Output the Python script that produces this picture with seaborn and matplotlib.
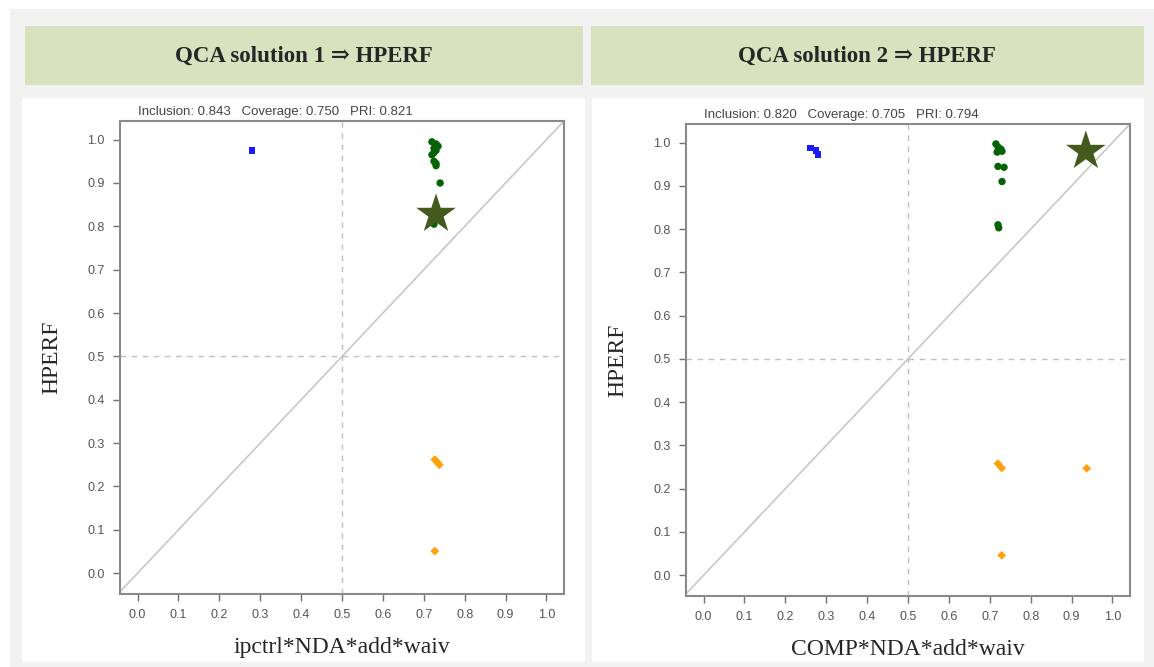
import matplotlib
matplotlib.use("Agg")
import matplotlib.pyplot as plt
from matplotlib.patches import Rectangle
import pandas as pd
import seaborn as sns

# solution 1: ipctrl*NDA*add*waiv
titles = ["QCA solution 1 \u21d2 HPERF", "QCA solution 2 \u21d2 HPERF"]
xlabels = ["ipctrl*NDA*add*waiv", "COMP*NDA*add*waiv"]
fit_texts = ["Inclusion: 0.843   Coverage: 0.750   PRI: 0.821",
             "Inclusion: 0.820   Coverage: 0.705   PRI: 0.794"]

s1_blue_x = [0.28]
s1_blue_y = [0.975]
s1_green_x = [0.72, 0.73, 0.735, 0.725, 0.73, 0.725, 0.72, 0.725, 0.73, 0.73, 0.74, 0.725]
s1_green_y = [0.995, 0.99, 0.985, 0.98, 0.975, 0.97, 0.965, 0.95, 0.945, 0.94, 0.90, 0.805]
s1_orange_x = [0.727, 0.733, 0.738, 0.727]
s1_orange_y = [0.262, 0.256, 0.250, 0.051]
s1_star = (0.73, 0.828)

s2_blue_x = [0.262, 0.275, 0.28]
s2_blue_y = [0.988, 0.982, 0.973]
s2_green_x = [0.715, 0.72, 0.727, 0.718, 0.73, 0.72, 0.735, 0.73, 0.72, 0.722]
s2_green_y = [0.997, 0.99, 0.985, 0.978, 0.98, 0.945, 0.943, 0.91, 0.81, 0.803]
s2_orange_x = [0.72, 0.729, 0.937, 0.729]
s2_orange_y = [0.258, 0.248, 0.247, 0.046]
s2_star = (0.935, 0.98)

ticks = [0.0, 0.1, 0.2, 0.3, 0.4, 0.5, 0.6, 0.7, 0.8, 0.9, 1.0]

sns.set_style("white")
plt.rcParams["font.family"] = ["Liberation Sans", "DejaVu Sans"]
serif = ["Liberation Serif", "DejaVu Serif"]

fig = plt.figure(figsize=(11.54, 6.67), dpi=100)
fig.patch.set_facecolor("white")
W, H = 1154, 667


def px_rect(x0, y0, x1, y1, color):
    fig.add_artist(Rectangle((x0 / W, 1 - y1 / H), (x1 - x0) / W, (y1 - y0) / H,
                             transform=fig.transFigure, facecolor=color,
                             edgecolor="none", zorder=-10))


px_rect(10, 9, 1154, 667, "#f2f2f2")
px_rect(25, 26, 583, 85, "#d7e3bf")
px_rect(591, 26, 1144, 85, "#d7e3bf")
px_rect(22, 98, 585, 662, "white")
px_rect(592, 98, 1144, 662, "white")

fig.text(304 / W, 1 - 56 / H, titles[0], ha="center", va="center",
         fontsize=16.5, fontweight="bold", family=serif)
fig.text(867 / W, 1 - 56 / H, titles[1], ha="center", va="center",
         fontsize=16.5, fontweight="bold", family=serif)

ax_boxes = [(120, 121, 564, 594), (686, 124, 1130, 596)]
data = [
    (s1_blue_x, s1_blue_y, s1_green_x, s1_green_y, s1_orange_x, s1_orange_y, s1_star),
    (s2_blue_x, s2_blue_y, s2_green_x, s2_green_y, s2_orange_x, s2_orange_y, s2_star),
]

for i, (box, d) in enumerate(zip(ax_boxes, data)):
    x0, y0, x1, y1 = box
    ax = fig.add_axes([x0 / W, 1 - y1 / H, (x1 - x0) / W, (y1 - y0) / H])
    ax.set_facecolor("white")
    bx, by, gx, gy, ox, oy, star = d

    ax.plot([-0.05, 1.05], [-0.05, 1.05], color="#c8c8c8", lw=1.2, zorder=1)
    ax.axvline(0.5, color="#c0c0c0", lw=1, ls=(0, (4, 4)), zorder=1)
    ax.axhline(0.5, color="#c0c0c0", lw=1, ls=(0, (4, 4)), zorder=1)

    sns.scatterplot(x=bx, y=by, ax=ax, marker="s", s=22, color="#1a1aff",
                    edgecolor="none", zorder=3)
    sns.scatterplot(x=gx, y=gy, ax=ax, marker="o", s=28, color="#056305",
                    edgecolor="none", zorder=3)
    sns.scatterplot(x=ox, y=oy, ax=ax, marker="D", s=20, color="#ffa10a",
                    edgecolor="none", zorder=3)
    sns.scatterplot(x=[star[0]], y=[star[1]], ax=ax, marker="*", s=900,
                    color="#435a1c", edgecolor="none", zorder=4)

    ax.set_xlim(-0.043, 1.043)
    ax.set_ylim(-0.048, 1.043)
    ax.set_xticks(ticks)
    ax.set_yticks(ticks)
    ax.set_xticklabels([f"{t:.1f}" for t in ticks])
    ax.set_yticklabels([f"{t:.1f}" for t in ticks])
    ax.tick_params(axis="both", direction="out", length=5, width=1,
                   color="#707070", labelcolor="#555555", labelsize=9, pad=6,
                   bottom=True, left=True)
    for sp in ax.spines.values():
        sp.set_color("#8a8a8a")
        sp.set_linewidth(1.5)

    ax.set_xlabel(xlabels[i], family=serif, fontsize=17, labelpad=11)
    ax.set_ylabel("HPERF", family=serif, fontsize=17, labelpad=18)
    ax.text(0.0, 1.006, fit_texts[i], transform=ax.get_xaxis_transform(),
            ha="left", va="bottom", fontsize=9.5, color="#444444")

fig.savefig("out.png", dpi=100, facecolor=fig.get_facecolor())
